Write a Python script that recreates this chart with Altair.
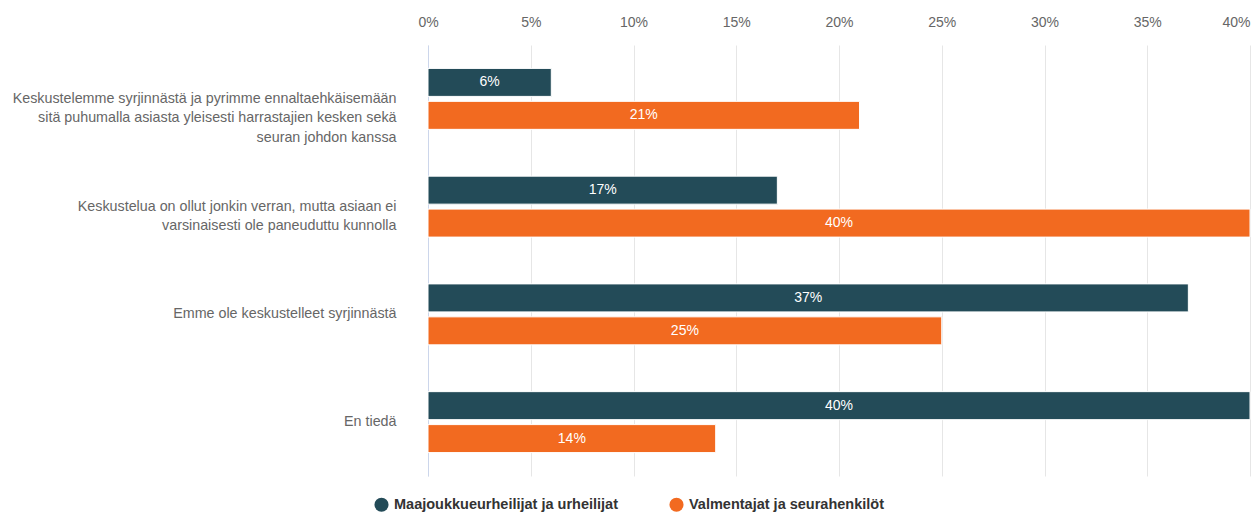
import altair as alt
import pandas as pd

categories = [
    "Keskustelemme syrjinnästä ja pyrimme ennaltaehkäisemään|sitä puhumalla asiasta yleisesti harrastajien kesken sekä|seuran johdon kanssa",
    "Keskustelua on ollut jonkin verran, mutta asiaan ei|varsinaisesti ole paneuduttu kunnolla",
    "Emme ole keskustelleet syrjinnästä ",
    "En tiedä",
]
series = ["Maajoukkueurheilijat ja urheilijat", "Valmentajat ja seurahenkilöt"]
athletes = [6, 17, 37, 40]
coaches = [21, 40, 25, 14]
colors = ["#234B58", "#F26A20"]

rows = []
for i, c in enumerate(categories):
    rows.append({"cat": c, "series": series[0], "value": athletes[i]})
    rows.append({"cat": c, "series": series[1], "value": coaches[i]})
df = pd.DataFrame(rows)
df["label"] = df["value"].astype(str) + "%"
df["half"] = df["value"] / 2

FONT = "Liberation Sans"

y_enc = alt.Y(
    "cat:N",
    sort=categories,
    scale=alt.Scale(paddingInner=0, paddingOuter=0),
    axis=alt.Axis(
        title=None,
        labelExpr="split(datum.label, '|')",
        labelFont=FONT,
        labelFontSize=14.3,
        labelColor="#666666",
        labelLineHeight=19.5,
        labelPadding=32,
        labelLimit=1000,
        ticks=False,
        domain=True,
        domainColor="#ccd6eb",
        domainWidth=1,
        grid=False,
        minExtent=420,
        maxExtent=420,
    ),
)
yoff = alt.YOffset(
    "series:N",
    sort=series,
    scale=alt.Scale(paddingInner=0.15, paddingOuter=0.71),
)

bars = alt.Chart(df).mark_bar(stroke="white", strokeWidth=1).encode(
    x=alt.X(
        "value:Q",
        scale=alt.Scale(domain=[0, 40], nice=False),
        axis=alt.Axis(
            orient="top",
            title=None,
            values=[0, 5, 10, 15, 20, 25, 30, 35, 40],
            labelExpr="datum.value + '%'",
            labelFont=FONT,
            labelFontSize=14,
            labelColor="#666666",
            labelPadding=16,
            labelAlign={"condition": {"test": "datum.value == 40", "value": "right"}, "value": "center"},
            ticks=False,
            domain=False,
            grid=True,
            gridColor="#e6e6e6",
            gridWidth=1,
            minExtent=37,
            maxExtent=37,
        ),
    ),
    y=y_enc,
    yOffset=yoff,
    color=alt.Color(
        "series:N",
        sort=series,
        scale=alt.Scale(domain=series, range=colors),
        legend=alt.Legend(
            title=None,
            orient="none",
            direction="horizontal",
            legendX=-54,
            legendY=452,
            symbolType="circle",
            symbolSize=200,
            symbolStrokeWidth=0,
            labelFont=FONT,
            labelFontSize=14.5,
            labelFontWeight="bold",
            labelColor="#333333",
            labelOffset=5,
            columnPadding=50,
            labelLimit=400,
        ),
    ),
)

texts = alt.Chart(df).mark_text(
    color="white", font=FONT, fontSize=14, align="center", baseline="middle"
).encode(
    x=alt.X("half:Q"),
    y=alt.Y("cat:N", sort=categories),
    yOffset=alt.YOffset("series:N", sort=series),
    text="label:N",
)

chart = (
    alt.layer(bars, texts)
    .properties(
        width=822,
        height=431,
        background="white",
        padding={"left": 0, "top": 0, "right": 0, "bottom": 0},
    )
    .configure_view(strokeWidth=0, stroke="transparent")
)

chart.save("out.html", embed_options={"renderer": "svg", "actions": False})
